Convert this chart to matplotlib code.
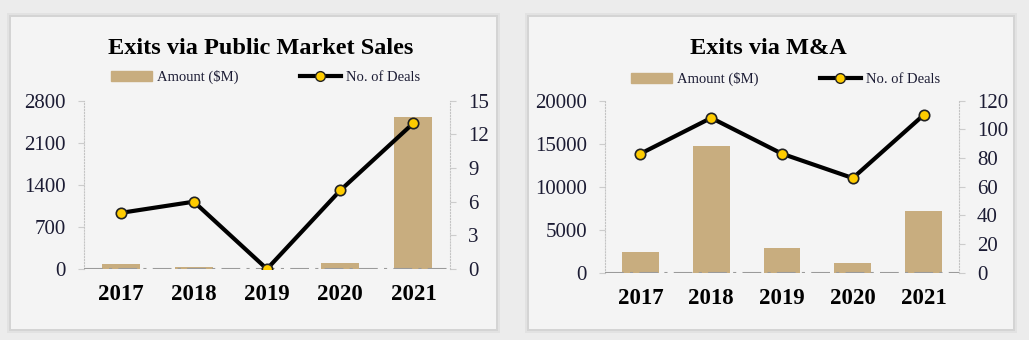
import matplotlib
matplotlib.use("Agg")
import matplotlib.pyplot as plt
from matplotlib.patches import Rectangle
from matplotlib.lines import Line2D

# data
years = ["2017", "2018", "2019", "2020", "2021"]
pub_amount = [75, 40, 0, 107, 2530]
pub_deals = [5, 6, 0, 7, 13]
ma_amount = [2350, 14750, 2900, 1100, 7150]
ma_deals = [83, 108, 83, 66, 110]

pub_left_ticks = [0, 700, 1400, 2100, 2800]
pub_right_ticks = [0, 3, 6, 9, 12, 15]
ma_left_ticks = [0, 5000, 10000, 15000, 20000]
ma_right_ticks = [0, 20, 40, 60, 80, 100, 120]

BAR = "#c8ad7f"
TXT = "#1c1c34"
SERIF = ["Liberation Serif", "DejaVu Serif"]
plt.rcParams["font.family"] = SERIF

W, H = 1029, 340
fig = plt.figure(figsize=(W / 100, H / 100), dpi=100, facecolor="#ececec")


def px(x0, y0, x1, y1):
    return [x0 / W, 1 - y1 / H, (x1 - x0) / W, (y1 - y0) / H]


# panels with a soft shadow
for (x0, y0, x1, y1) in [(11, 17, 496, 329), (529, 17, 1013, 329)]:
    for k, a in [(4, 0.04), (2, 0.06)]:
        fig.patches.append(Rectangle(((x0 - k) / W, 1 - (y1 + k) / H), (x1 - x0 + 2 * k) / W,
                                     (y1 - y0 + 2 * k) / H, transform=fig.transFigure,
                                     facecolor="black", alpha=a, lw=0, zorder=-3))
    fig.patches.append(Rectangle((x0 / W, 1 - y1 / H), (x1 - x0) / W, (y1 - y0) / H,
                                 transform=fig.transFigure, facecolor="#f4f4f4", lw=0, zorder=-2))


def panel(rect, title, tx, amount, deals, lt, rt, legx, legy):
    ax = fig.add_axes(rect)
    ax.set_facecolor("none")
    x = range(len(years))
    ax.bar(x, amount, width=0.52, color=BAR, zorder=2)
    ax.axhline(0, color="#9a9a9a", lw=1.5, ls=(0, (9, 3, 1.5, 3)), zorder=3)
    ax.set_xlim(-0.5, len(years) - 0.5)
    ax.set_ylim(lt[0], lt[-1])
    ax.set_yticks(lt)
    ax.set_xticks(list(x))
    ax.set_xticklabels(years, fontsize=16.5, fontweight="bold", color="black")
    ax.tick_params(axis="x", length=0, pad=11)
    ax.tick_params(axis="y", labelsize=15, labelcolor=TXT, length=4, color="#cccccc", pad=9)
    for s in ("top", "bottom", "right"):
        ax.spines[s].set_visible(False)
    ax.spines["left"].set_linestyle(":")
    ax.spines["left"].set_color("#c4c4c4")

    ax2 = ax.twinx()
    ax2.plot(x, deals, color="black", lw=3, marker="o", ms=7.5, mfc="#ffcc00",
             mec="#222222", mew=1.2, zorder=5)
    ax2.set_ylim(rt[0], rt[-1])
    ax2.set_yticks(rt)
    ax2.tick_params(axis="y", labelsize=15, labelcolor=TXT, length=4, color="#cccccc", pad=9)
    for s in ("top", "bottom", "left"):
        ax2.spines[s].set_visible(False)
    ax2.spines["right"].set_linestyle(":")
    ax2.spines["right"].set_color("#c4c4c4")

    fig.text(tx / W, 1 - 48 / H, title, ha="center", va="center", fontsize=17.5,
             fontweight="bold", color="black")
    handles = [Rectangle((0, 0), 1, 1, color=BAR),
               Line2D([], [], color="black", lw=3, marker="o", ms=7, mfc="#ffcc00", mec="#222222")]
    fig.legend(handles, ["Amount ($M)", "No. of Deals"], loc="center left",
               bbox_to_anchor=(legx / W, 1 - legy / H), ncol=2, frameon=False, fontsize=10.5,
               labelcolor=TXT, handlelength=2.8, handletextpad=0.35, columnspacing=4.2,
               borderaxespad=0, borderpad=0)


panel(px(84, 100.7, 450, 269), "Exits via Public Market Sales", 261,
      pub_amount, pub_deals, pub_left_ticks, pub_right_ticks, 111, 77)
panel(px(605, 100.7, 959, 272.7), "Exits via M&A", 768,
      ma_amount, ma_deals, ma_left_ticks, ma_right_ticks, 631, 79)

fig.savefig("out.png", dpi=100, facecolor=fig.get_facecolor())
